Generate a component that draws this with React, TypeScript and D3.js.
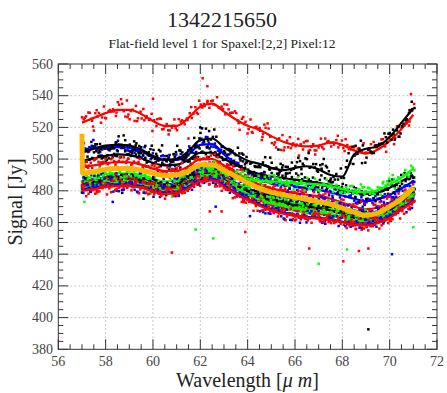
import React from "react";
import * as d3 from "d3";

const W = 447;
const H = 393;

const titleText = "1342215650";
const subtitleText = "Flat-field level 1 for Spaxel:[2,2] Pixel:12";
const xTickValues = [56, 58, 60, 62, 64, 66, 68, 70, 72];
const yTickValues = [380, 400, 420, 440, 460, 480, 500, 520, 540, 560];

const knotX = [57, 57.5, 58, 58.5, 59, 59.5, 60, 60.5, 61, 61.5, 62, 62.5, 63, 63.5, 64, 64.5, 65, 65.5, 66, 66.5, 67, 67.5, 68, 68.5, 69, 69.5, 70, 70.5, 71];

const redTop = [523, 526, 529, 531, 531, 528.5, 524, 521, 521, 526, 533, 535, 530, 525, 521, 518.5, 514.5, 511, 509, 508, 508.5, 510.5, 509, 505.5, 503.5, 506, 511.5, 519, 528];
const blackTop = [504, 506.5, 508.5, 509, 508.5, 506, 502, 499.5, 500, 505, 512, 513, 507.5, 503, 499, 497, 494.5, 493, 494.5, 495.5, 493.5, 490, 489, 503, 506.5, 508, 514, 523, 532];
const blueTop = [506, 507, 507.5, 507.5, 507, 505, 501.5, 499.5, 499.5, 503, 509, 509.5, 503, 497, 492, 488.5, 486, 484.5, 483, 481.5, 480.5, 479, 477, 475, 473.5, 474.5, 477.5, 481.5, 486];
const black2 = [499, 500.5, 502, 503, 502.5, 500.5, 497.5, 496, 496.5, 499.5, 504, 504, 500, 496.5, 493, 490.5, 489, 488, 487, 486, 485, 483.5, 481, 479, 478, 479, 482, 486, 490];
const red2 = [495, 496, 497.5, 498, 498, 496.5, 494, 492.5, 492.5, 495.5, 500, 500, 496, 491.5, 487.5, 484, 481.5, 480, 478.5, 477.5, 476.5, 475, 472.5, 470, 468.5, 469.5, 472.5, 476.5, 481];
const green1 = [488, 489, 490.5, 491, 491, 490, 487.5, 486, 486.5, 489.5, 494, 494.5, 491.5, 489, 487.5, 486.5, 486, 485.5, 485, 484.5, 484, 483, 481, 479.5, 479, 480.5, 484, 488.5, 494];
const blue2 = [486, 487, 488.5, 489, 489, 488, 485.5, 484, 484.5, 487.5, 492.5, 493, 489, 485, 481.5, 479, 477, 476, 475, 474, 473, 471.5, 469.5, 467.5, 466, 467, 470.5, 475, 480];
const green2 = [485, 486, 487.5, 488, 488, 487, 484.5, 483, 483.5, 486.5, 491.5, 492, 488, 484, 480.5, 477.5, 475, 473.5, 472, 471, 470, 468.5, 466.5, 464.5, 463.5, 465, 469, 474, 480];
const black3 = [484, 485, 486.5, 487, 487, 486, 483.5, 482, 482.5, 485.5, 490.5, 491, 487, 483, 479.5, 476.5, 474, 472.5, 471, 470, 469, 467.5, 465.5, 463.5, 462.5, 464, 467.5, 472.5, 478];
const red3 = [483, 484, 485.5, 486, 486, 485, 482.5, 481, 481.5, 484.5, 489, 489.5, 485.5, 481.5, 477.5, 474, 471, 469, 467.5, 466.5, 465.5, 464.5, 463, 461, 460, 461.5, 465, 470, 476];
const green3 = [482, 483, 484.5, 485, 485, 484, 481.5, 480, 480.5, 483.5, 489.5, 490, 486, 482, 478, 474.5, 472, 470.5, 469, 468, 467, 465.5, 463.5, 461.5, 461, 462.5, 466, 471.5, 478];
const blue3 = [481, 482, 483.5, 484, 484, 483, 480.5, 479, 479.5, 482.5, 487, 487.5, 483.5, 479, 475, 471.5, 468.5, 466.5, 464.5, 463.5, 463, 462, 460.5, 459, 458.5, 460, 463.5, 468.5, 474];
const red4 = [480, 481, 482.5, 483, 483, 482, 479.5, 478, 478.5, 481.5, 486, 486.5, 482.5, 478, 474, 470.5, 467.5, 465.5, 464, 463, 462.5, 461.5, 460, 458.5, 458, 459.5, 463, 468, 473];

const meanX = [57, 57.03, 57.5, 58, 58.5, 59, 59.5, 60, 60.5, 61, 61.5, 62, 62.5, 63, 63.5, 64, 64.5, 65, 65.5, 66, 66.5, 67, 67.5, 68, 68.5, 69, 69.5, 70, 70.5, 71];
const meanY = [516, 491, 492, 493.5, 494, 494, 493, 491, 489.5, 490, 492.5, 496.5, 496.5, 493, 489, 485, 481.5, 479, 477.5, 476, 474.5, 473, 471.5, 469, 466.5, 464.5, 466, 470, 475, 482];

// hand-typed scatter residuals (unitless)
const residuals = [0.12, -0.45, 0.78, -0.91, 0.33, 0.05, -0.62, 0.47, -0.18, 0.86, -0.37, 0.21, -0.74, 0.59, -0.08, 0.94, -0.52, 0.27, -0.83, 0.41, 0.66, -0.29, 0.02, -0.97, 0.38, 0.73, -0.14, -0.56, 0.88, -0.33, 0.17, -0.69, 0.51, 0.09, -0.42, 0.81, -0.77, 0.24, -0.05, 0.63, -0.88, 0.36, 0.71, -0.23, -0.61, 0.15, 0.92, -0.47, 0.28, -0.11, 0.55, -0.84, 0.43, -0.3, 0.68, 0.01, -0.72, 0.39, -0.95, 0.19, 0.83, -0.16, -0.54, 0.46, 0.07, -0.67, 0.6, -0.39, 0.98, -0.26, 0.31, -0.79, 0.13, 0.52, -0.58, 0.87, -0.09, -0.44, 0.7, -0.2, 0.35, -0.86, 0.58, 0.04, -0.64, 0.22, 0.79, -0.35, -0.12, 0.49, -0.99, 0.26, 0.64, -0.48, 0.11, -0.71, 0.44, 0.9, -0.25, -0.03, 0.57];

const outlierX = [62.1, 62.3, 60.0, 58.9, 60.8, 61.8, 62.55, 63.9, 66.6, 67.0, 70.1, 68.04, 68.7, 69.1, 68.2, 71.0, 69.1, 58.3, 57.1, 59.6, 62.4, 62.9, 62.65, 64.1, 58.7, 62.0, 70.9, 57.5, 61.5, 65.3, 64.6];
const outlierY = [551, 546, 538, 537, 441, 455.6, 450, 454, 443.6, 434, 440, 435.5, 442, 443.6, 443, 457, 392.6, 473, 473, 475, 467, 467, 470, 464, 478.7, 520, 541, 518, 513, 506, 512];
const outlierC = ["red", "red", "red", "red", "red", "green", "green", "red", "red", "green", "blue", "red", "red", "red", "green", "green", "black", "blue", "green", "black", "red", "red", "blue", "blue", "black", "black", "red", "red", "red", "black", "red"];

const COLORS: Record<string, string> = { red: "#ff0000", black: "#000000", blue: "#0000ff", green: "#00ff00" };

const series = [
  { color: "red", values: redTop, amp: 4 },
  { color: "blue", values: blueTop, amp: 2.8 },
  { color: "black", values: blackTop, amp: 5 },
  { color: "black", values: black2, amp: 3.2 },
  { color: "red", values: red2, amp: 2.8 },
  { color: "green", values: green1, amp: 2.8 },
  { color: "blue", values: blue2, amp: 2.8 },
  { color: "green", values: green2, amp: 2.8 },
  { color: "black", values: black3, amp: 2.8 },
  { color: "red", values: red3, amp: 2.8 },
  { color: "green", values: green3, amp: 2.8 },
  { color: "blue", values: blue3, amp: 2.8 },
  { color: "red", values: red4, amp: 2.8 },
];

const left = 58.3, right = 437, top = 64, bottom = 349.3;
const FONT = "'Liberation Serif', 'DejaVu Serif', serif";

export default function App() {
  const x = d3.scaleLinear().domain([56, 72]).range([left, right]);
  const y = d3.scaleLinear().domain([380, 560]).range([bottom, top]);
  const line = d3
    .line<[number, number]>()
    .x((d) => x(d[0]))
    .y((d) => y(d[1]))
    .curve(d3.curveMonotoneX);

  const R = residuals.length;
  const nPts = 230;
  const layers = series.map((s, i) => {
    const base = d3.scaleLinear().domain(knotX).range(s.values).clamp(true);
    const pts: { cx: number; cy: number }[] = [];
    for (let j = 0; j < nPts; j++) {
      let xv = 57 + j * 0.0613 + 0.03 * residuals[(j * 7 + i * 13) % R];
      xv = Math.max(57, Math.min(71.05, xv));
      const yv = base(xv) + s.amp * (residuals[(j * 3 + i * 17 + 5) % R] + residuals[(j * 11 + i * 7 + 2) % R]);
      pts.push({ cx: x(xv), cy: y(yv) });
    }
    return { pts, color: COLORS[s.color], path: line(knotX.map((k, j) => [k, s.values[j]] as [number, number])) || "" };
  });

  const xMinor = d3.range(56, 72.001, 0.5);
  const yMinor = d3.range(380, 560.001, 5);
  const isMajorX = (v: number) => Math.abs(v / 2 - Math.round(v / 2)) < 1e-6;
  const isMajorY = (v: number) => Math.abs(v / 20 - Math.round(v / 20)) < 1e-6;

  return (
    <svg width={W} height={H} style={{ position: "absolute", left: 0, top: 0, background: "#fff" }} fontFamily={FONT}>
      <rect x={0} y={0} width={W} height={H} fill="#fff" />
      <text x={222} y={27} fontSize={22} textAnchor="middle" fill="#222">{titleText}</text>
      <text x={222} y={48} fontSize={13.5} textAnchor="middle" fill="#222">{subtitleText}</text>

      {/* grid */}
      {xTickValues.slice(1, -1).map((v) => (
        <line key={"gx" + v} x1={x(v)} x2={x(v)} y1={top} y2={bottom} stroke="#c8c8c8" strokeDasharray="2,2" />
      ))}
      {yTickValues.slice(1, -1).map((v) => (
        <line key={"gy" + v} x1={left} x2={right} y1={y(v)} y2={y(v)} stroke="#c8c8c8" strokeDasharray="2,2" />
      ))}

      {/* series: scatter then fitted line */}
      {layers.map((L, i) => (
        <g key={"s" + i}>
          {L.pts.map((d, k) => (
            <rect key={k} x={d.cx - 1.25} y={d.cy - 1.25} width={2.5} height={2.5} fill={L.color} />
          ))}
          <path d={L.path} fill="none" stroke={L.color} strokeWidth={2.2} />
        </g>
      ))}
      {outlierX.map((xv, k) => (
        <rect key={"o" + k} x={x(xv) - 1.25} y={y(outlierY[k]) - 1.25} width={2.5} height={2.5} fill={COLORS[outlierC[k]]} />
      ))}
      <path
        d={line(meanX.map((k, j) => [k, meanY[j]] as [number, number])) || ""}
        fill="none"
        stroke="#ffb400"
        strokeWidth={5}
      />

      {/* frame */}
      <rect x={left} y={top} width={right - left} height={bottom - top} fill="none" stroke="#333" strokeWidth={1} />

      {/* ticks */}
      {xMinor.map((v) => {
        const len = isMajorX(v) ? 10 : 5;
        return (
          <g key={"tx" + v}>
            <line x1={x(v)} x2={x(v)} y1={bottom} y2={bottom - len} stroke="#333" />
            <line x1={x(v)} x2={x(v)} y1={top} y2={top + len} stroke="#333" />
          </g>
        );
      })}
      {yMinor.map((v) => {
        const len = isMajorY(v) ? 10 : 5;
        return (
          <g key={"ty" + v}>
            <line x1={left} x2={left + len} y1={y(v)} y2={y(v)} stroke="#333" />
            <line x1={right} x2={right - len} y1={y(v)} y2={y(v)} stroke="#333" />
          </g>
        );
      })}

      {/* tick labels */}
      {xTickValues.map((v) => (
        <text key={"lx" + v} x={x(v)} y={366} fontSize={14} textAnchor="middle" fill="#444">{v}</text>
      ))}
      {yTickValues.map((v) => (
        <text key={"ly" + v} x={53} y={y(v) + 4.5} fontSize={14} textAnchor="end" fill="#444">{v}</text>
      ))}

      {/* axis titles */}
      <text x={247.5} y={387} fontSize={20} textAnchor="middle" fill="#222">
        Wavelength [<tspan fontStyle="italic">μ</tspan> <tspan fontStyle="italic">m</tspan>]
      </text>
      <text transform="translate(22,202) rotate(-90)" fontSize={20} textAnchor="middle" fill="#222">
        Signal [Jy]
      </text>
    </svg>
  );
}
